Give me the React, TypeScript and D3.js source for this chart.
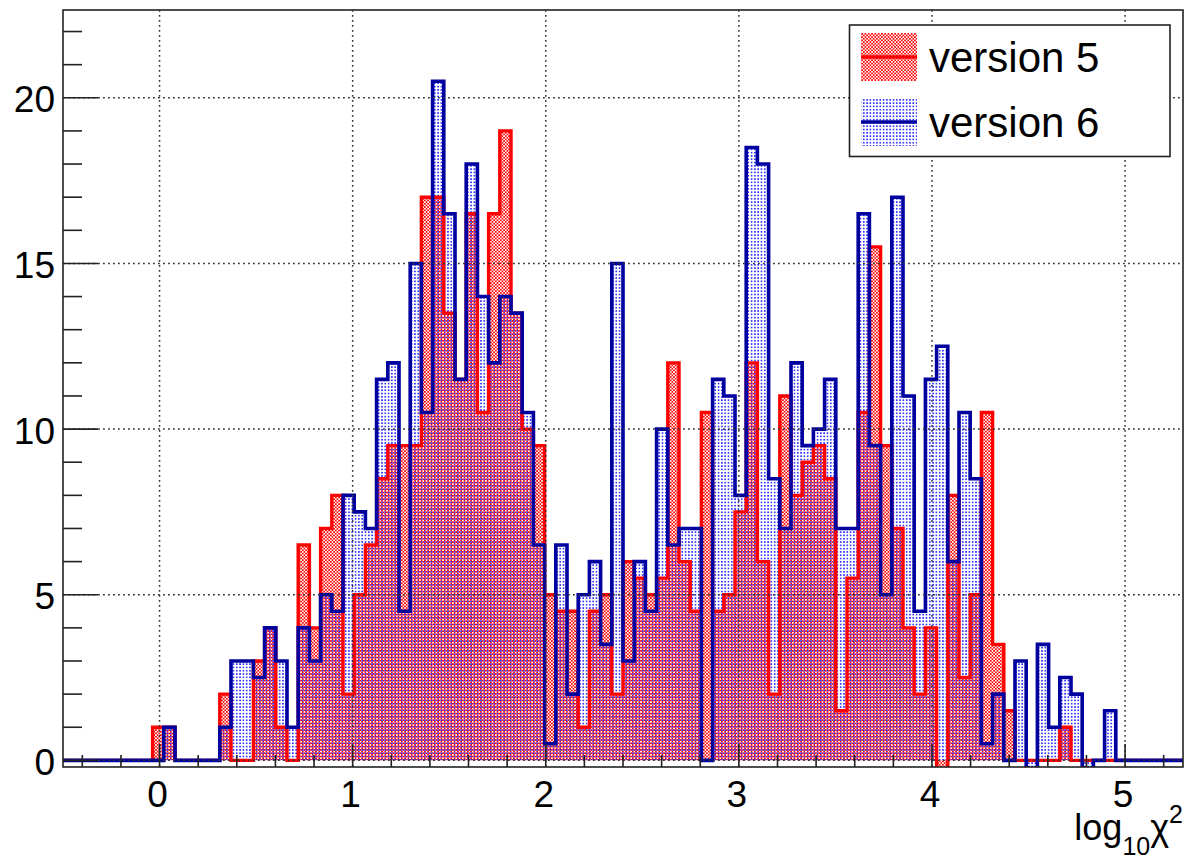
import React, { useEffect, useRef } from "react";
import * as d3 from "d3";

// histogram binning (log10 chi2)
const xMin = -0.5;
const xMax = 5.3;
const nBins = 100;

// bin contents (100 bins)
const version5 = [
  0, 0, 0, 0, 0, 0, 0, 0, 1, 1,
  0, 0, 0, 0, 2, 0, 0, 3, 4, 1,
  0, 6.5, 4, 7, 8, 2, 5, 6.5, 8.5, 9.5,
  9.5, 9.5, 17, 17, 13.5, 11.5, 16.5, 10.5, 16.5, 19,
  13.5, 10, 9.5, 5, 4.5, 4.5, 1, 4.5, 5, 2,
  6, 5.5, 5, 5.5, 12, 6, 4.5, 10.5, 4.5, 5,
  7.5, 12, 6, 2, 11, 8, 9, 9.5, 8.5, 1.5,
  5.5, 10.5, 15.5, 9.5, 7, 4, 2, 4, -0.5, 8,
  2.5, 5, 10.5, 3.5, 1.5, 0, 0, 0, 0, 1,
  0, 0, 0, 0, 0, 0, 0, 0, 0, 0,
];

const version6 = [
  0, 0, 0, 0, 0, 0, 0, 0, 0, 1,
  0, 0, 0, 0, 1, 3, 3, 2.5, 4, 3,
  1, 4, 3, 5, 4.5, 8, 7.5, 7, 11.5, 12,
  4.5, 15, 10.5, 20.5, 16.5, 11.5, 18, 14, 12, 14,
  13.5, 10.5, 6.5, 0.5, 6.5, 2, 5, 6, 3.5, 15,
  3, 6, 4.5, 10, 6.5, 7, 7, 0, 11.5, 11,
  8, 18.5, 18, 8.5, 7, 12, 9.5, 10, 11.5, 7,
  7, 16.5, 9.5, 5, 17, 11, 4.5, 11.5, 12.5, 6,
  10.5, 8.5, 0.5, 2, 0, 3, -0.5, 3.5, 1, 2.5,
  2, -0.5, 0, 1.5, 0, 0, 0, 0, 0, 0,
];

const xTicks = [0, 1, 2, 3, 4, 5];
const yTicks = [0, 5, 10, 15, 20];
const legendLabels = ["version 5", "version 6"];

const W = 1188;
const H = 868;
const frame = { left: 63, right: 1183, top: 10, bottom: 767 };
const font = "'Liberation Sans', Arial, Helvetica, sans-serif";
const red = "#ff0000";
const blue = "#00009e";

const App = () => {
  const ref = useRef<SVGSVGElement>(null);

  useEffect(() => {
    const svg = d3.select(ref.current);
    svg.selectAll("*").remove();

    const x = d3.scaleLinear().domain([xMin, xMax]).range([frame.left, frame.right]);
    const y = d3.scaleLinear().domain([-0.2, 22.65]).range([frame.bottom, frame.top]);
    const bw = (xMax - xMin) / nBins;

    const defs = svg.append("defs");
    const s = 3.3;
    const p5 = defs
      .append("pattern")
      .attr("id", "pat5")
      .attr("patternUnits", "userSpaceOnUse")
      .attr("width", s)
      .attr("height", s);
    p5.append("rect").attr("x", 0).attr("y", 0).attr("width", s / 2).attr("height", s / 2).attr("fill", red);
    p5.append("rect").attr("x", s / 2).attr("y", s / 2).attr("width", s / 2).attr("height", s / 2).attr("fill", red);
    const p6 = defs
      .append("pattern")
      .attr("id", "pat6")
      .attr("patternUnits", "userSpaceOnUse")
      .attr("width", s)
      .attr("height", s);
    p6.append("rect").attr("x", s / 2).attr("y", 0).attr("width", s / 2).attr("height", s / 2).attr("fill", "#3535ff");

    defs
      .append("clipPath")
      .attr("id", "frameClip")
      .append("rect")
      .attr("x", frame.left)
      .attr("y", frame.top)
      .attr("width", frame.right - frame.left)
      .attr("height", frame.bottom - frame.top);

    svg.append("rect").attr("width", W).attr("height", H).attr("fill", "white");

    // step points for each histogram
    const steps = (vals: number[]) => {
      const pts: [number, number][] = [[xMin, 0]];
      vals.forEach((v, i) => {
        pts.push([xMin + i * bw, v]);
        pts.push([xMin + (i + 1) * bw, v]);
      });
      pts.push([xMax, 0]);
      return pts;
    };

    const area = d3
      .area<[number, number]>()
      .x((d) => x(d[0]))
      .y0(y(0))
      .y1((d) => y(d[1]));
    const line = d3
      .line<[number, number]>()
      .x((d) => x(d[0]))
      .y((d) => y(d[1]));

    const plot = svg.append("g").attr("clip-path", "url(#frameClip)");
    const h5 = steps(version5);
    const h6 = steps(version6);

    plot.append("path").attr("d", area(h5)).attr("fill", "url(#pat5)");
    plot.append("path").attr("d", area(h6)).attr("fill", "url(#pat6)");
    plot
      .append("path")
      .attr("d", line(h5))
      .attr("fill", "none")
      .attr("stroke", red)
      .attr("stroke-width", 3.4);
    plot
      .append("path")
      .attr("d", line(h6))
      .attr("fill", "none")
      .attr("stroke", blue)
      .attr("stroke-width", 3.6);

    // grid
    const grid = svg
      .append("g")
      .attr("stroke", "#333")
      .attr("stroke-width", 1.5)
      .attr("stroke-dasharray", "1.8 3.2");
    grid
      .selectAll("line.gx")
      .data(xTicks)
      .enter()
      .append("line")
      .attr("x1", (d) => x(d))
      .attr("x2", (d) => x(d))
      .attr("y1", frame.top)
      .attr("y2", frame.bottom);
    grid
      .selectAll("line.gy")
      .data(yTicks)
      .enter()
      .append("line")
      .attr("x1", frame.left)
      .attr("x2", frame.right)
      .attr("y1", (d) => y(d))
      .attr("y2", (d) => y(d));

    // ticks
    const axes = svg.append("g").attr("stroke", "#222").attr("stroke-width", 1.6);
    const xMinor = d3.range(-0.4, 5.3, 0.2).filter((t) => Math.abs(t - Math.round(t)) > 1e-6);
    axes
      .selectAll("line.xm")
      .data(xMinor)
      .enter()
      .append("line")
      .attr("x1", (d) => x(d))
      .attr("x2", (d) => x(d))
      .attr("y1", frame.bottom)
      .attr("y2", frame.bottom - 12);
    axes
      .selectAll("line.xM")
      .data(xTicks)
      .enter()
      .append("line")
      .attr("x1", (d) => x(d))
      .attr("x2", (d) => x(d))
      .attr("y1", frame.bottom)
      .attr("y2", frame.bottom - 23);
    const yMinor = d3.range(0, 23, 1).filter((t) => t % 5 !== 0);
    axes
      .selectAll("line.ym")
      .data(yMinor)
      .enter()
      .append("line")
      .attr("x1", frame.left)
      .attr("x2", frame.left + 19)
      .attr("y1", (d) => y(d))
      .attr("y2", (d) => y(d));
    axes
      .selectAll("line.yM")
      .data(yTicks)
      .enter()
      .append("line")
      .attr("x1", frame.left)
      .attr("x2", frame.left + 35)
      .attr("y1", (d) => y(d))
      .attr("y2", (d) => y(d));

    svg
      .append("rect")
      .attr("x", frame.left)
      .attr("y", frame.top)
      .attr("width", frame.right - frame.left)
      .attr("height", frame.bottom - frame.top)
      .attr("fill", "none")
      .attr("stroke", "#222")
      .attr("stroke-width", 1.6);

    // tick labels
    svg
      .selectAll("text.xl")
      .data(xTicks)
      .enter()
      .append("text")
      .attr("x", (d) => x(d) - 2)
      .attr("y", 807)
      .attr("text-anchor", "middle")
      .attr("font-family", font)
      .attr("font-size", 37)
      .text((d) => d);
    svg
      .selectAll("text.yl")
      .data(yTicks)
      .enter()
      .append("text")
      .attr("x", 55)
      .attr("y", (d) => y(d) + 14.5)
      .attr("text-anchor", "end")
      .attr("font-family", font)
      .attr("font-size", 37)
      .text((d) => d);

    // axis title: log10 chi^2
    const title = svg
      .append("text")
      .attr("x", 1183)
      .attr("y", 840)
      .attr("text-anchor", "end")
      .attr("font-family", font)
      .attr("font-size", 36);
    title.append("tspan").text("log");
    title.append("tspan").attr("dy", 15).attr("font-size", 25).text("10");
    title.append("tspan").attr("dy", -15).text("χ");
    title.append("tspan").attr("dy", -17).attr("font-size", 25).text("2");

    // legend
    const lg = svg.append("g");
    lg.append("rect")
      .attr("x", 849.5)
      .attr("y", 25)
      .attr("width", 320.5)
      .attr("height", 131.5)
      .attr("fill", "white")
      .attr("stroke", "#222")
      .attr("stroke-width", 1.6);
    const rows = [
      { label: legendLabels[0], pat: "url(#pat5)", col: red, top: 33 },
      { label: legendLabels[1], pat: "url(#pat6)", col: blue, top: 98 },
    ];
    rows.forEach((r) => {
      lg.append("rect")
        .attr("x", 861)
        .attr("y", r.top)
        .attr("width", 56)
        .attr("height", 48)
        .attr("fill", r.pat);
      lg.append("line")
        .attr("x1", 861)
        .attr("x2", 917)
        .attr("y1", r.top + 24)
        .attr("y2", r.top + 24)
        .attr("stroke", r.col)
        .attr("stroke-width", 3.4);
      lg.append("text")
        .attr("x", 929)
        .attr("y", r.top + 39)
        .attr("font-family", font)
        .attr("font-size", 42)
        .text(r.label);
    });
  }, []);

  return (
    <svg
      ref={ref}
      width={W}
      height={H}
      style={{ position: "absolute", left: 0, top: 0, display: "block" }}
    ></svg>
  );
};

export default App;
